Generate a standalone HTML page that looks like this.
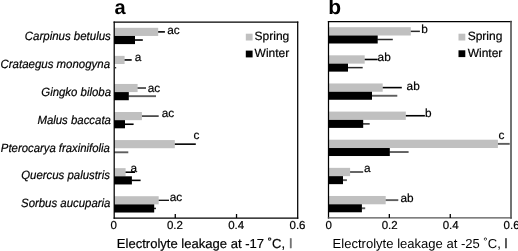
<!DOCTYPE html>
<html lang="en"><head><meta charset="utf-8"><title>Electrolyte leakage</title>
<style>
html,body{margin:0;padding:0;background:#fff;}
body{width:518px;height:251px;overflow:hidden;}
svg{display:block;}
</style></head><body>
<svg width="518" height="251" viewBox="0 0 518 251" font-family="'Liberation Sans', sans-serif" fill="#000" text-rendering="geometricPrecision">
<rect width="518" height="251" fill="#fff"/>
<text transform="translate(110.8 39.70) scale(0.955 1)" font-size="12" font-style="italic" text-anchor="end" stroke="#000" stroke-width="0.2">Carpinus betulus</text>
<text transform="translate(110.1 67.65) scale(0.955 1)" font-size="12" font-style="italic" text-anchor="end" stroke="#000" stroke-width="0.2">Crataegus monogyna</text>
<text transform="translate(111.0 95.60) scale(0.95 1)" font-size="12" font-style="italic" text-anchor="end" stroke="#000" stroke-width="0.2">Gingko biloba</text>
<text transform="translate(110.9 123.55) scale(0.95 1)" font-size="12" font-style="italic" text-anchor="end" stroke="#000" stroke-width="0.2">Malus baccata</text>
<text transform="translate(109.9 151.50) scale(0.945 1)" font-size="12" font-style="italic" text-anchor="end" stroke="#000" stroke-width="0.2">Pterocarya fraxinifolia</text>
<text transform="translate(109.9 179.45) scale(0.95 1)" font-size="12" font-style="italic" text-anchor="end" stroke="#000" stroke-width="0.2">Quercus palustris</text>
<text transform="translate(110.4 207.40) scale(0.95 1)" font-size="12" font-style="italic" text-anchor="end" stroke="#000" stroke-width="0.2">Sorbus aucuparia</text>
<line x1="157.70" y1="31.88" x2="164.90" y2="31.88" stroke="#000" stroke-width="1.6"/>
<line x1="134.50" y1="40.03" x2="142.80" y2="40.03" stroke="#000" stroke-width="1.6"/>
<rect x="114.00" y="27.80" width="44.20" height="8.15" fill="#c0c0c0"/>
<rect x="114.00" y="35.95" width="21.00" height="8.15" fill="#000"/>
<text x="167.30" y="33.80" font-size="11.8" stroke="#000" stroke-width="0.2">ac</text>
<line x1="124.10" y1="59.95" x2="131.70" y2="59.95" stroke="#000" stroke-width="1.6"/>
<rect x="114.00" y="55.87" width="10.60" height="8.15" fill="#c0c0c0"/>
<text x="134.70" y="60.90" font-size="11.8" stroke="#000" stroke-width="0.2">a</text>
<line x1="137.10" y1="88.02" x2="146.00" y2="88.02" stroke="#2a2a2a" stroke-width="1.5"/>
<line x1="128.30" y1="96.17" x2="156.00" y2="96.17" stroke="#5e5e5e" stroke-width="1.9"/>
<rect x="114.00" y="83.94" width="23.60" height="8.15" fill="#c0c0c0"/>
<rect x="114.00" y="92.09" width="14.80" height="8.15" fill="#000"/>
<text x="147.80" y="91.90" font-size="11.8" stroke="#000" stroke-width="0.2">ac</text>
<line x1="141.40" y1="116.09" x2="158.70" y2="116.09" stroke="#2a2a2a" stroke-width="1.5"/>
<line x1="124.50" y1="124.24" x2="133.60" y2="124.24" stroke="#000" stroke-width="1.6"/>
<rect x="114.00" y="112.01" width="27.90" height="8.15" fill="#c0c0c0"/>
<rect x="114.00" y="120.16" width="11.00" height="8.15" fill="#000"/>
<text x="161.80" y="116.90" font-size="11.8" stroke="#000" stroke-width="0.2">ac</text>
<line x1="174.30" y1="144.15" x2="195.80" y2="144.15" stroke="#000" stroke-width="1.6"/>
<line x1="114.00" y1="152.30" x2="128.30" y2="152.30" stroke="#5e5e5e" stroke-width="1.9"/>
<rect x="114.00" y="140.08" width="60.80" height="8.15" fill="#c0c0c0"/>
<text x="193.60" y="138.70" font-size="11.8" stroke="#000" stroke-width="0.2">c</text>
<line x1="125.10" y1="172.22" x2="135.10" y2="172.22" stroke="#000" stroke-width="1.6"/>
<line x1="131.40" y1="180.37" x2="140.60" y2="180.37" stroke="#000" stroke-width="1.6"/>
<rect x="114.00" y="168.15" width="11.60" height="8.15" fill="#c0c0c0"/>
<rect x="114.00" y="176.30" width="17.90" height="8.15" fill="#000"/>
<text x="130.40" y="172.00" font-size="11.8" stroke="#000" stroke-width="0.2">a</text>
<line x1="158.20" y1="200.29" x2="169.00" y2="200.29" stroke="#000" stroke-width="1.25"/>
<line x1="153.70" y1="208.44" x2="156.00" y2="208.44" stroke="#2a2a2a" stroke-width="1.5"/>
<rect x="114.00" y="196.22" width="44.70" height="8.15" fill="#c0c0c0"/>
<rect x="114.00" y="204.37" width="40.20" height="8.15" fill="#000"/>
<text x="169.80" y="201.30" font-size="11.8" stroke="#000" stroke-width="0.2">ac</text>
<line x1="114.2" y1="22" x2="297.7" y2="22" stroke="#000" stroke-width="1.25" stroke-linecap="square"/>
<line x1="114.2" y1="22" x2="114.2" y2="218.1" stroke="#000" stroke-width="1.25" stroke-linecap="square"/>
<line x1="297.7" y1="22" x2="297.7" y2="218.1" stroke="#000" stroke-width="1.25" stroke-linecap="square"/>
<line x1="114.2" y1="218.1" x2="297.7" y2="218.1" stroke="#000" stroke-width="1.25" stroke-linecap="square"/>
<text x="113.70" y="229.40" font-size="11.5" text-anchor="middle" stroke="#000" stroke-width="0.2">0</text>
<line x1="175.27" y1="214.00" x2="175.27" y2="218.00" stroke="#000" stroke-width="1.3"/>
<text x="174.97" y="229.40" font-size="11.5" text-anchor="middle" stroke="#000" stroke-width="0.2">0.2</text>
<line x1="236.53" y1="214.00" x2="236.53" y2="218.00" stroke="#000" stroke-width="1.3"/>
<text x="236.23" y="229.40" font-size="11.5" text-anchor="middle" stroke="#000" stroke-width="0.2">0.4</text>
<text x="297.50" y="229.40" font-size="11.5" text-anchor="middle" stroke="#000" stroke-width="0.2">0.6</text>
<text x="114.50" y="14.3" font-size="20" font-weight="bold">a</text>
<rect x="245.80" y="33.7" width="6.8" height="6.8" fill="#c0c0c0"/>
<text x="254.60" y="40.4" font-size="12" stroke="#000" stroke-width="0.2">Spring</text>
<rect x="245.80" y="50.60" width="6.8" height="6.8" fill="#000"/>
<text x="254.60" y="57.30" font-size="12" stroke="#000" stroke-width="0.2">Winter</text>
<text x="116.80" y="248.30" font-size="13.06" stroke="#000" stroke-width="0.2">Electrolyte leakage at -17 ˚C, <tspan dx="0.6" fill="#6a6a6a" stroke="#6a6a6a" stroke-width="0.5">l</tspan></text>
<line x1="410.30" y1="31.35" x2="419.90" y2="31.35" stroke="#2a2a2a" stroke-width="1.5"/>
<line x1="377.20" y1="39.50" x2="392.80" y2="39.50" stroke="#2a2a2a" stroke-width="1.5"/>
<rect x="328.40" y="27.20" width="82.40" height="8.30" fill="#c0c0c0"/>
<rect x="328.40" y="35.50" width="49.30" height="8.00" fill="#000"/>
<text x="421.20" y="33.30" font-size="11.8" stroke="#000" stroke-width="0.2">b</text>
<line x1="364.20" y1="59.48" x2="377.70" y2="59.48" stroke="#000" stroke-width="1.6"/>
<line x1="347.50" y1="67.63" x2="362.70" y2="67.63" stroke="#2a2a2a" stroke-width="1.5"/>
<rect x="328.40" y="55.33" width="36.30" height="8.30" fill="#c0c0c0"/>
<rect x="328.40" y="63.63" width="19.60" height="8.00" fill="#000"/>
<text x="377.60" y="60.90" font-size="11.8" stroke="#000" stroke-width="0.2">ab</text>
<line x1="382.20" y1="87.61" x2="401.80" y2="87.61" stroke="#000" stroke-width="1.6"/>
<line x1="371.50" y1="95.76" x2="397.30" y2="95.76" stroke="#5e5e5e" stroke-width="1.9"/>
<rect x="328.40" y="83.46" width="54.30" height="8.30" fill="#c0c0c0"/>
<rect x="328.40" y="91.76" width="43.60" height="8.00" fill="#000"/>
<text x="406.60" y="89.50" font-size="11.8" stroke="#000" stroke-width="0.2">ab</text>
<line x1="405.30" y1="115.74" x2="424.90" y2="115.74" stroke="#000" stroke-width="1.6"/>
<line x1="362.70" y1="123.89" x2="369.70" y2="123.89" stroke="#2a2a2a" stroke-width="1.5"/>
<rect x="328.40" y="111.59" width="77.40" height="8.30" fill="#c0c0c0"/>
<rect x="328.40" y="119.89" width="34.80" height="8.00" fill="#000"/>
<text x="425.00" y="117.00" font-size="11.8" stroke="#000" stroke-width="0.2">b</text>
<line x1="497.40" y1="143.87" x2="509.70" y2="143.87" stroke="#5e5e5e" stroke-width="1.9"/>
<line x1="389.30" y1="152.02" x2="408.60" y2="152.02" stroke="#5e5e5e" stroke-width="1.9"/>
<rect x="328.40" y="139.72" width="169.50" height="8.30" fill="#c0c0c0"/>
<rect x="328.40" y="148.02" width="61.40" height="8.00" fill="#000"/>
<text x="498.60" y="139.00" font-size="11.8" stroke="#000" stroke-width="0.2">c</text>
<line x1="349.60" y1="172.00" x2="363.20" y2="172.00" stroke="#5e5e5e" stroke-width="1.9"/>
<line x1="342.50" y1="180.15" x2="346.90" y2="180.15" stroke="#5e5e5e" stroke-width="1.9"/>
<rect x="328.40" y="167.85" width="21.70" height="8.30" fill="#c0c0c0"/>
<rect x="328.40" y="176.15" width="14.60" height="8.00" fill="#000"/>
<text x="364.00" y="172.00" font-size="11.8" stroke="#000" stroke-width="0.2">a</text>
<line x1="385.20" y1="200.13" x2="398.30" y2="200.13" stroke="#5e5e5e" stroke-width="1.9"/>
<line x1="361.40" y1="208.28" x2="365.20" y2="208.28" stroke="#5e5e5e" stroke-width="1.9"/>
<rect x="328.40" y="195.98" width="57.30" height="8.30" fill="#c0c0c0"/>
<rect x="328.40" y="204.28" width="33.50" height="8.00" fill="#000"/>
<text x="400.40" y="201.90" font-size="11.8" stroke="#000" stroke-width="0.2">ab</text>
<line x1="328.5" y1="21.6" x2="511.2" y2="21.6" stroke="#000" stroke-width="1.25" stroke-linecap="square"/>
<line x1="328.5" y1="21.6" x2="328.5" y2="217.9" stroke="#000" stroke-width="1.25" stroke-linecap="square"/>
<line x1="511.0" y1="21.6" x2="511.0" y2="217.9" stroke="#505050" stroke-width="1.6" stroke-linecap="square"/>
<line x1="328.5" y1="217.9" x2="511.2" y2="217.9" stroke="#555" stroke-width="1.4" stroke-linecap="square"/>
<text x="328.80" y="228.70" font-size="11.5" text-anchor="middle" stroke="#000" stroke-width="0.2">0</text>
<line x1="389.33" y1="214.00" x2="389.33" y2="218.00" stroke="#000" stroke-width="1.3"/>
<text x="389.73" y="228.70" font-size="11.5" text-anchor="middle" stroke="#000" stroke-width="0.2">0.2</text>
<line x1="450.27" y1="214.00" x2="450.27" y2="218.00" stroke="#000" stroke-width="1.3"/>
<text x="450.67" y="228.70" font-size="11.5" text-anchor="middle" stroke="#000" stroke-width="0.2">0.4</text>
<text x="511.60" y="228.70" font-size="11.5" text-anchor="middle" stroke="#000" stroke-width="0.2">0.6</text>
<text x="328.30" y="14.3" font-size="21" font-weight="bold">b</text>
<rect x="458.50" y="33.7" width="6.8" height="6.8" fill="#c0c0c0"/>
<text x="467.70" y="40.4" font-size="12" stroke="#000" stroke-width="0.2">Spring</text>
<rect x="458.50" y="50.30" width="6.8" height="6.8" fill="#000"/>
<text x="467.70" y="57.00" font-size="12" stroke="#000" stroke-width="0.2">Winter</text>
<text x="332.60" y="247.60" font-size="13.06">Electrolyte leakage at -25 ˚C, <tspan dx="0" fill="#333" stroke="#333" stroke-width="0.5">l</tspan></text>
<rect x="114.9" y="67.1" width="1.3" height="1.3" fill="#222"/>
</svg>
</body></html>
